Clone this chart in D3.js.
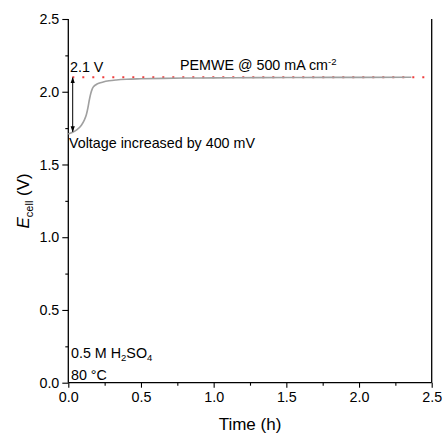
<!DOCTYPE html>
<html>
<head>
<meta charset="utf-8">
<script src="https://cdn.jsdelivr.net/npm/d3@7"></script>
<style>
  html, body { margin: 0; padding: 0; background: #fff; }
  svg { display: block; }
  text { font-family: "Liberation Sans", Arial, sans-serif; fill: #000; }
</style>
</head>
<body>
<script>
// Cell voltage of the PEM water electrolyser held at 500 mA cm-2
const timeH = [0, 0.03, 0.06, 0.09, 0.11, 0.125, 0.135, 0.145, 0.155, 0.165, 0.175, 0.19, 0.21, 0.24, 0.28, 0.33, 0.4, 0.5, 0.65, 0.8, 1.0, 1.3, 1.6, 2.0, 2.36];
const cellV = [1.71, 1.722, 1.74, 1.77, 1.805, 1.845, 1.89, 1.945, 1.99, 2.02, 2.036, 2.048, 2.058, 2.067, 2.075, 2.081, 2.086, 2.089, 2.092, 2.094, 2.095, 2.097, 2.098, 2.099, 2.1];

const targetV = 2.1;      // reference line level
const startV = 1.71;      // initial voltage at t = 0

const xTicks = [0, 0.5, 1.0, 1.5, 2.0, 2.5];
const xMinor = [0.25, 0.75, 1.25, 1.75, 2.25];
const yTicks = [0, 0.5, 1.0, 1.5, 2.0, 2.5];
const yMinor = [0.25, 0.75, 1.25, 1.75, 2.25];

const W = 445, H = 436;
const margin = { left: 68.3, right: W - 431.7, top: 19, bottom: H - 382.7 };
const FS = 14.3;

const svg = d3.select("body").append("svg").attr("width", W).attr("height", H);

const x = d3.scaleLinear().domain([0, 2.5]).range([margin.left, W - margin.right]);
const y = d3.scaleLinear().domain([0, 2.5]).range([H - margin.bottom, margin.top]);

// Axes
const fmt = d3.format(".1f");
const gx = svg.append("g").attr("transform", `translate(0,${y(0)})`)
  .call(d3.axisBottom(x).tickValues(xTicks).tickFormat(fmt).tickSize(5).tickPadding(4));
const gxm = svg.append("g").attr("transform", `translate(0,${y(0)})`)
  .call(d3.axisBottom(x).tickValues(xMinor).tickFormat("").tickSize(3));
const gy = svg.append("g").attr("transform", `translate(${x(0)},0)`)
  .call(d3.axisLeft(y).tickValues(yTicks).tickFormat(fmt).tickSize(6).tickPadding(3));
const gym = svg.append("g").attr("transform", `translate(${x(0)},0)`)
  .call(d3.axisLeft(y).tickValues(yMinor).tickFormat("").tickSize(3));

[gx, gxm, gy, gym].forEach(g => {
  g.selectAll("path.domain").attr("stroke", "#000").attr("stroke-width", 1.3);
  g.selectAll(".tick line").attr("stroke", "#000").attr("stroke-width", 1.1);
  g.selectAll(".tick text").attr("font-size", FS).attr("font-family", "Liberation Sans, Arial, sans-serif");
});
gym.select("path.domain").remove();
gxm.select("path.domain").remove();
gx.select("path.domain").attr("d", `M${x(0)},0H${x(2.5)}`);
gy.select("path.domain").attr("d", `M0,${y(0)}V${y(2.5)}`);

// Right frame line
svg.append("line")
  .attr("x1", x(2.5)).attr("x2", x(2.5))
  .attr("y1", y(0)).attr("y2", y(2.5))
  .attr("stroke", "#000").attr("stroke-width", 1.3);

// Dotted reference line at 2.1 V
svg.append("line")
  .attr("x1", x(0)).attr("x2", x(2.5))
  .attr("y1", y(targetV)).attr("y2", y(targetV))
  .attr("stroke", "#f03c3c").attr("stroke-width", 2)
  .attr("stroke-dasharray", "2,8")
  .attr("stroke-dashoffset", -4);

// Voltage trace
const line = d3.line().x((d, i) => x(timeH[i])).y(d => y(d)).curve(d3.curveMonotoneX);
svg.append("path")
  .datum(cellV)
  .attr("d", line)
  .attr("fill", "none")
  .attr("stroke", "#a0a0a0")
  .attr("stroke-width", 1.6);

// Double-headed arrow marking the voltage rise
const defs = svg.append("defs");
defs.append("marker").attr("id", "ah")
  .attr("viewBox", "0 0 10 10").attr("refX", 9).attr("refY", 5)
  .attr("markerWidth", 6).attr("markerHeight", 6)
  .attr("orient", "auto-start-reverse")
  .append("path").attr("d", "M0,1.5 L10,5 L0,8.5 Z").attr("fill", "#000");
const ax = x(0) + 4.4;
svg.append("line")
  .attr("x1", ax).attr("x2", ax)
  .attr("y1", y(targetV) + 0.5).attr("y2", y(startV + 0.015))
  .attr("stroke", "#000").attr("stroke-width", 1)
  .attr("marker-start", "url(#ah)").attr("marker-end", "url(#ah)");

// Annotations
svg.append("text").attr("x", 70).attr("y", 72).attr("font-size", FS).text("2.1 V");

const pem = svg.append("text").attr("x", 180).attr("y", 70).attr("font-size", FS);
pem.append("tspan").text("PEMWE @ 500 mA cm");
pem.append("tspan").attr("dy", -5.5).attr("font-size", 9.5).text("-2");

svg.append("text").attr("x", 69).attr("y", 148).attr("font-size", FS).text("Voltage increased by 400 mV");

const acid = svg.append("text").attr("x", 71).attr("y", 358).attr("font-size", FS);
acid.append("tspan").text("0.5 M H");
acid.append("tspan").attr("dy", 3).attr("font-size", 9.5).text("2");
acid.append("tspan").attr("dy", -3).text("SO");
acid.append("tspan").attr("dy", 3).attr("font-size", 9.5).text("4");

svg.append("text").attr("x", 71).attr("y", 380).attr("font-size", FS).text("80 °C");

// Axis titles
svg.append("text")
  .attr("x", (x(0) + x(2.5)) / 2).attr("y", 430)
  .attr("text-anchor", "middle").attr("font-size", 17)
  .text("Time (h)");

const yl = svg.append("text")
  .attr("transform", `translate(29,${(y(0) + y(2.5)) / 2}) rotate(-90)`)
  .attr("text-anchor", "middle").attr("font-size", 17);
yl.append("tspan").attr("font-style", "italic").text("E");
yl.append("tspan").attr("dy", 4).attr("font-size", 11).text("cell");
yl.append("tspan").attr("dy", -4).text(" (V)");
</script>
</body>
</html>
